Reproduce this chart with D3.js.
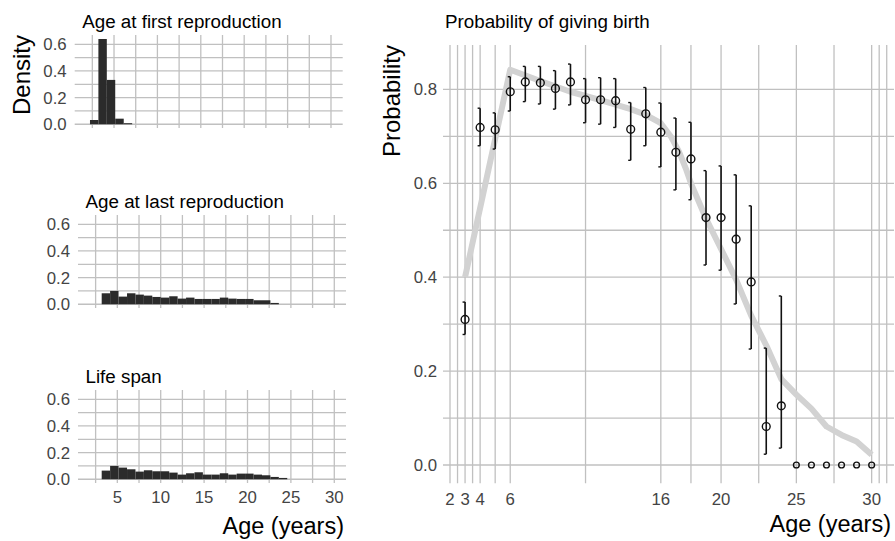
<!DOCTYPE html>
<html>
<head>
<meta charset="utf-8">
<script src="https://d3js.org/d3.v7.min.js"></script>
<style>
body { margin: 0; background: #fff; }
svg { display: block; font-family: "Liberation Sans", Arial, sans-serif; }
</style>
</head>
<body>
<div id="chart"></div>
<script>
// histogram bins (years), shared by the three left panels
var binEdges = [2.23, 3.20, 4.17, 5.14, 6.12, 7.09, 8.06, 9.03, 10.00, 10.98, 11.95, 12.92,
  13.89, 14.86, 15.84, 16.81, 17.78, 18.75, 19.72, 20.70, 21.67, 22.64, 23.61, 24.58];
var firstRepro = [0.032, 0.64, 0.333, 0.042, 0.008];                 // from bin 0
var lastRepro = [0.0825, 0.1, 0.0575, 0.0825, 0.0725, 0.065, 0.055, 0.05, 0.06, 0.0425, 0.05,
  0.04, 0.04, 0.04, 0.05, 0.0425, 0.04, 0.04, 0.03, 0.03, 0.01];      // from bin 1
var lifeSpan = [0.065, 0.1, 0.0875, 0.075, 0.0575, 0.0675, 0.06, 0.06, 0.05, 0.035, 0.045,
  0.0525, 0.035, 0.035, 0.045, 0.035, 0.0425, 0.0425, 0.035, 0.03, 0.0175, 0.01]; // from bin 1
var densityTicks = [0, 0.2, 0.4, 0.6];
var densityMinor = [0.1, 0.3, 0.5];
var ageTicks = [5, 10, 15, 20, 25, 30];
var ageMinor = [2.5, 7.5, 12.5, 17.5, 22.5, 27.5];

// probability of giving birth by age
var ages = [3, 4, 5, 6, 7, 8, 9, 10, 11, 12, 13, 14, 15, 16, 17, 18, 19, 20, 21, 22, 23, 24, 25, 26, 27, 28, 29, 30];
var prob = [0.31, 0.719, 0.714, 0.795, 0.816, 0.814, 0.802, 0.816, 0.778, 0.778, 0.776, 0.715, 0.748, 0.709,
  0.666, 0.652, 0.527, 0.527, 0.481, 0.390, 0.082, 0.126, 0, 0, 0, 0, 0, 0];
var probLow = [0.278, 0.680, 0.673, 0.754, 0.774, 0.769, 0.758, 0.767, 0.729, 0.726, 0.719, 0.649, 0.680, 0.635,
  0.586, 0.565, 0.426, 0.415, 0.343, 0.247, 0.023, 0.036, null, null, null, null, null, null];
var probHigh = [0.347, 0.760, 0.750, 0.827, 0.849, 0.849, 0.840, 0.854, 0.823, 0.825, 0.823, 0.772, 0.804, 0.771,
  0.739, 0.730, 0.627, 0.637, 0.618, 0.552, 0.249, 0.360, null, null, null, null, null, null];
var fitAge = [3, 6, 8, 10, 12, 14, 15, 16, 16.7, 17.2, 17.7, 18, 19, 20, 21, 22, 23, 24, 25, 26, 27, 28, 29, 30];
var fitProb = [0.40, 0.842, 0.818, 0.795, 0.777, 0.758, 0.746, 0.728, 0.698, 0.668, 0.628, 0.600, 0.525, 0.46,
  0.395, 0.318, 0.255, 0.183, 0.15, 0.12, 0.082, 0.064, 0.05, 0.022];
var probTicks = [0, 0.2, 0.4, 0.6, 0.8];
var probMinor = [0.1, 0.3, 0.5, 0.7];
var birthAgeTicks = [2, 3, 4, 6, 16, 20, 25, 30];
var birthAgeGrid = [2, 3, 4, 6, 16, 20, 25, 30, 31];
var birthAgeMinor = [2.5, 3.5, 5, 11, 18, 22.5, 27.5, 30.5];

var W = 895, H = 541;
var gridColor = "#c0c0c0";
var tickColor = "#444";

var svg = d3.select("#chart").append("svg")
  .attr("width", W)
  .attr("height", H);

// ---- left: three histograms ----
var panels = [
  { title: "Age at first reproduction", data: firstRepro, start: 0, zero: 124.3, shift: -3.3 },
  { title: "Age at last reproduction", data: lastRepro, start: 1, zero: 304.3, shift: 0 },
  { title: "Life span", data: lifeSpan, start: 1, zero: 479.3, shift: 0 }
];

panels.forEach(function(p, pi) {
  var x = d3.scaleLinear().domain([0.47, 31.35]).range([78 + p.shift, 346 + p.shift]);
  var y = d3.scaleLinear().domain([-0.028, 0.67]).range([p.zero + 3.7, p.zero - 89.3]);
  var g = svg.append("g");
  var x0 = x.range()[0], x1 = x.range()[1];
  var y0 = y.range()[0], y1 = y.range()[1];

  g.selectAll("line.hg")
    .data(densityTicks.concat(densityMinor))
    .enter().append("line")
      .attr("x1", x0).attr("x2", x1)
      .attr("y1", function(d) { return y(d); })
      .attr("y2", function(d) { return y(d); })
      .attr("stroke", gridColor).attr("stroke-width", 1.3);
  g.selectAll("line.vg")
    .data(ageTicks.concat(ageMinor))
    .enter().append("line")
      .attr("x1", function(d) { return x(d); })
      .attr("x2", function(d) { return x(d); })
      .attr("y1", y0).attr("y2", y1)
      .attr("stroke", gridColor).attr("stroke-width", 1.3);

  g.selectAll("rect")
    .data(p.data)
    .enter().append("rect")
      .attr("x", function(d, i) { return x(binEdges[i + p.start]); })
      .attr("width", function(d, i) { return x(binEdges[i + p.start + 1]) - x(binEdges[i + p.start]); })
      .attr("y", function(d) { return y(d); })
      .attr("height", function(d) { return y(0) - y(d); })
      .attr("fill", "#2b2b2b");

  g.selectAll("text.yt")
    .data(densityTicks)
    .enter().append("text")
      .attr("x", 70 + p.shift)
      .attr("y", function(d) { return y(d); })
      .attr("dy", "0.36em")
      .attr("text-anchor", "end")
      .attr("font-size", 16.8)
      .attr("fill", tickColor)
      .text(function(d) { return d3.format(".1f")(d); });

  g.append("text")
    .attr("x", x0 + 7.5)
    .attr("y", y1 - 7.5)
    .attr("font-size", 18.8)
    .attr("fill", "#000")
    .text(p.title);

  if (pi === 2) {
    g.selectAll("text.xt")
      .data(ageTicks)
      .enter().append("text")
        .attr("x", function(d) { return x(d); })
        .attr("y", 503)
        .attr("text-anchor", "middle")
        .attr("font-size", 16.8)
        .attr("fill", tickColor)
        .text(function(d) { return d; });
  }
});

svg.append("text")
  .attr("transform", "translate(30,35) rotate(-90)")
  .attr("text-anchor", "end")
  .attr("font-size", 24)
  .text("Density");

svg.append("text")
  .attr("x", 344)
  .attr("y", 534)
  .attr("text-anchor", "end")
  .attr("font-size", 23.5)
  .text("Age (years)");

// ---- right: probability of giving birth ----
var xr = d3.scaleLinear().domain([1.535, 31.55]).range([443, 895]);
var yr = d3.scaleLinear().domain([-0.039, 0.8946]).range([483.3, 45]);
var gr = svg.append("g");

gr.selectAll("line.hg")
  .data(probTicks.concat(probMinor))
  .enter().append("line")
    .attr("x1", 443).attr("x2", 894)
    .attr("y1", function(d) { return yr(d); })
    .attr("y2", function(d) { return yr(d); })
    .attr("stroke", gridColor).attr("stroke-width", 1.3);
gr.selectAll("line.vg")
  .data(birthAgeGrid.concat(birthAgeMinor))
  .enter().append("line")
    .attr("x1", function(d) { return xr(d); })
    .attr("x2", function(d) { return xr(d); })
    .attr("y1", yr.range()[0]).attr("y2", yr.range()[1])
    .attr("stroke", gridColor).attr("stroke-width", 1.3);

var fitLine = d3.line()
  .x(function(d, i) { return xr(fitAge[i]); })
  .y(function(d) { return yr(d); });
gr.append("path")
  .attr("d", fitLine(fitProb))
  .attr("fill", "none")
  .attr("stroke", "#d2d2d2")
  .attr("stroke-width", 6)
  .attr("stroke-linejoin", "round");

var withBars = ages.filter(function(a, i) { return probLow[i] !== null; });
gr.selectAll("line.err")
  .data(withBars)
  .enter().append("line")
    .attr("x1", function(d) { return xr(d); })
    .attr("x2", function(d) { return xr(d); })
    .attr("y1", function(d) { return yr(probLow[ages.indexOf(d)]); })
    .attr("y2", function(d) { return yr(probHigh[ages.indexOf(d)]); })
    .attr("stroke", "#111").attr("stroke-width", 1.6);
["low", "high"].forEach(function(end) {
  gr.selectAll("line.cap-" + end)
    .data(withBars)
    .enter().append("line")
      .attr("x1", function(d) { return xr(d) - 2.5; })
      .attr("x2", function(d) { return xr(d); })
      .attr("y1", function(d) { var i = ages.indexOf(d); return yr(end === "low" ? probLow[i] : probHigh[i]); })
      .attr("y2", function(d) { var i = ages.indexOf(d); return yr(end === "low" ? probLow[i] : probHigh[i]); })
      .attr("stroke", "#111").attr("stroke-width", 1.4);
});

gr.selectAll("circle")
  .data(ages)
  .enter().append("circle")
    .attr("cx", function(d) { return xr(d); })
    .attr("cy", function(d, i) { return yr(prob[i]); })
    .attr("r", function(d, i) { return probLow[i] === null ? 2.9 : 3.9; })
    .attr("fill", "none")
    .attr("stroke", "#111")
    .attr("stroke-width", 1.4);

gr.selectAll("text.yt")
  .data(probTicks)
  .enter().append("text")
    .attr("x", 437)
    .attr("y", function(d) { return yr(d); })
    .attr("dy", "0.36em")
    .attr("text-anchor", "end")
    .attr("font-size", 16.8)
    .attr("fill", tickColor)
    .text(function(d) { return d3.format(".1f")(d); });

gr.selectAll("text.xt")
  .data(birthAgeTicks)
  .enter().append("text")
    .attr("x", function(d) { return xr(d); })
    .attr("y", 505)
    .attr("text-anchor", "middle")
    .attr("font-size", 16.8)
    .attr("fill", tickColor)
    .text(function(d) { return d; });

gr.append("text")
  .attr("x", 445)
  .attr("y", 28.3)
  .attr("font-size", 18.8)
  .text("Probability of giving birth");

svg.append("text")
  .attr("transform", "translate(400,45) rotate(-90)")
  .attr("text-anchor", "end")
  .attr("font-size", 24)
  .text("Probability");

svg.append("text")
  .attr("x", 891)
  .attr("y", 532)
  .attr("text-anchor", "end")
  .attr("font-size", 23.5)
  .text("Age (years)");
</script>
</body>
</html>
